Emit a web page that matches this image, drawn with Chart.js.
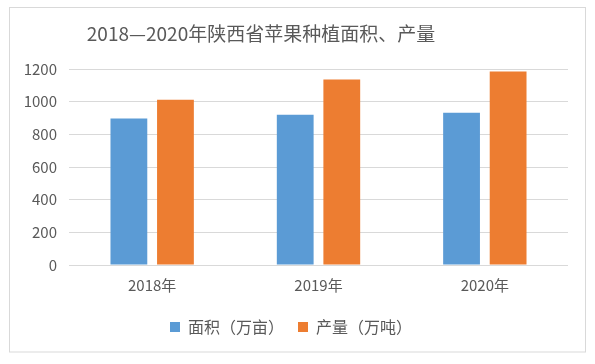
<!DOCTYPE html>
<html>
<head>
<meta charset="utf-8">
<script src="https://cdn.jsdelivr.net/npm/chart.js@4"></script>
<style>
  html, body { margin: 0; padding: 0; background: #fff; }
  #wrap { position: relative; width: 595px; height: 364px; }
</style>
</head>
<body>
<div id="wrap"><canvas id="c"></canvas></div>
<script>
// 数据：2018—2020年陕西省苹果
const titulo = '2018—2020年陕西省苹果种植面积、产量';
const anos = ['2018年', '2019年', '2020年'];
const area = [897, 920, 932];        // 面积（万亩）
const producao = [1012, 1135, 1185]; // 产量（万吨）
const yTicks = [0, 200, 400, 600, 800, 1000, 1200];

const FONTE = '"Noto Sans CJK SC", "Noto Sans", sans-serif';
const CINZA = '#595959';

// moldura + título desenhados à mão (título fica deslocado à esquerda como no original)
const molduraTitulo = {
  id: 'molduraTitulo',
  beforeDraw(chart) {
    const c = chart.ctx;
    c.save();
    c.fillStyle = '#fff';
    c.fillRect(0, 0, chart.width, chart.height);
    c.strokeStyle = '#d9d9d9';
    c.lineWidth = 1;
    c.strokeRect(9.5, 7.5, 576, 344.5);
    c.restore();
  },
  afterDraw(chart) {
    const c = chart.ctx;
    c.save();
    c.font = '19px ' + FONTE;
    c.fillStyle = CINZA;
    c.textAlign = 'center';
    c.textBaseline = 'middle';
    c.fillText(titulo, 261, 34);
    c.restore();
  }
};

new Chart(document.getElementById('c'), {
  type: 'bar',
  data: {
    labels: anos,
    datasets: [
      { label: '面积（万亩）', data: area, backgroundColor: '#5B9BD5', barPercentage: 0.79, categoryPercentage: 0.56 },
      { label: '产量（万吨）', data: producao, backgroundColor: '#ED7D31', barPercentage: 0.79, categoryPercentage: 0.56 }
    ]
  },
  options: {
    responsive: true, maintainAspectRatio: false, animation: false,
    layout: { padding: { left: 14, right: 27, top: 69, bottom: 19 } },
    plugins: {
      title: { display: false },
      tooltip: { enabled: false },
      legend: {
        position: 'bottom',
        labels: { boxWidth: 10, boxHeight: 10, padding: 14, color: CINZA, font: { family: FONTE, size: 16 } }
      }
    },
    scales: {
      x: {
        grid: { display: false, drawTicks: false },
        border: { display: false },
        ticks: { color: CINZA, padding: 11, font: { family: FONTE, size: 15 } }
      },
      y: {
        min: 0, max: 1200,
        afterBuildTicks: s => { s.ticks = yTicks.map(v => ({ value: v })); },
        afterFit: s => { s.width = 55; },
        grid: { color: '#d9d9d9', lineWidth: 1, drawTicks: false },
        border: { display: false },
        ticks: { color: CINZA, padding: 12, font: { family: FONTE, size: 15 }, callback: v => String(v) }
      }
    }
  },
  plugins: [molduraTitulo]
});
</script>
</body>
</html>
